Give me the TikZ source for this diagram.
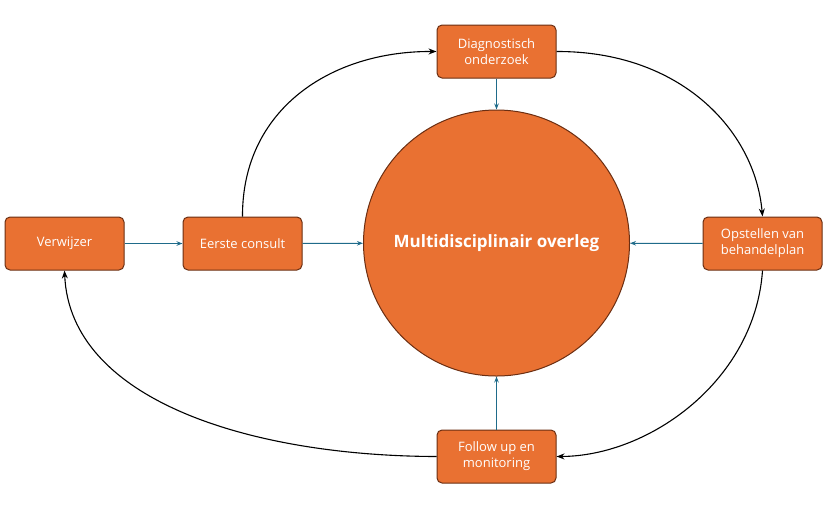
\documentclass[tikz,border=0pt]{standalone}
\usepackage{fontspec}
\setmainfont{Open Sans}
\usetikzlibrary{arrows.meta}
\definecolor{org}{HTML}{E97132}
\definecolor{edge}{HTML}{6B2E12}
\definecolor{blu}{HTML}{1F6B8A}
\begin{document}
\begin{tikzpicture}[x=1pt,y=-1pt,
 box/.style={draw=edge,fill=org,rounded corners=5pt,minimum width=119pt,minimum height=53pt,text=white,align=center,font=\fontsize{13}{16}\selectfont,line width=1pt},
 bl/.style={draw=blu,line width=1pt,-{Stealth[length=6pt]}},
 bk/.style={draw=black,line width=1.1pt,-{Stealth[length=8pt,open]}}]
\useasboundingbox (0,0) rectangle (829,507);
\node[circle,draw=edge,fill=org,line width=1pt,minimum size=266pt,text=white,font=\bfseries\fontsize{17}{20}\selectfont] (c) at (496.5,243) {Multidisciplinair overleg};
\node[box] (v) at (64.5,243.5) {Verwijzer};
\node[box] (e) at (242.5,243.5) {Eerste consult};
\node[box] (d) at (496.5,51.5) {Diagnostisch\\onderzoek};
\node[box] (o) at (762.5,243.5) {Opstellen van\\behandelplan};
\node[box] (f) at (496.5,456.5) {Follow up en\\monitoring};
\draw[bl] (v) -- (e);
\draw[bl] (e) -- (c);
\draw[bl] (d) -- (c);
\draw[bl] (o) -- (c);
\draw[bl] (f) -- (c);
\draw[bk] (e.north) .. controls (242,110) and (330,51) .. (d.west);
\draw[bk] (d.east) .. controls (680,51) and (755,130) .. (o.north);
\draw[bk] (o.south) .. controls (755,380) and (650,456) .. (f.east);
\draw[bk] (f.west) .. controls (250,456) and (70,400) .. (v.south);
\end{tikzpicture}
\end{document}
